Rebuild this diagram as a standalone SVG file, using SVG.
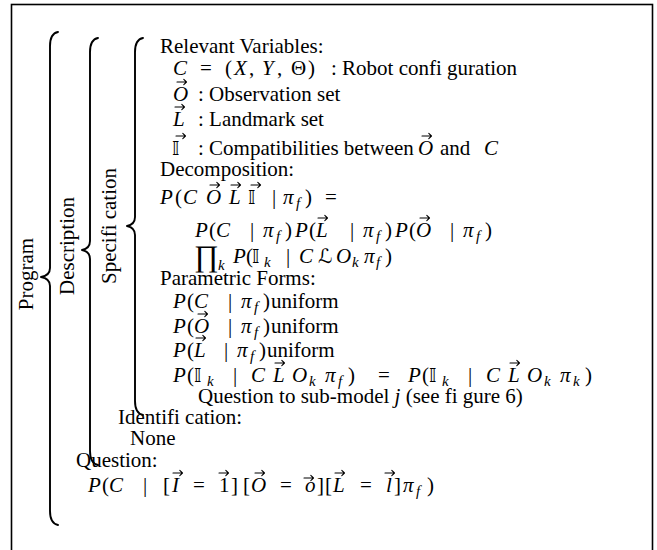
<svg xmlns="http://www.w3.org/2000/svg" width="657" height="550" viewBox="0 0 657 550">
<style>
.t{font-family:"Liberation Serif","DejaVu Serif",serif;font-size:21px;fill:#000}
.i{font-style:italic}
.s{font-size:15px;font-style:italic}
.bb{font-family:"DejaVu Sans","DejaVu Serif","Noto Sans",sans-serif;font-size:19px;font-style:italic}
.sc{font-family:"DejaVu Serif","DejaVu Sans",serif;font-size:20px;font-style:italic}
.br{fill:none;stroke:#000;stroke-width:1.9;stroke-linecap:round;stroke-linejoin:round}
.frame{fill:none;stroke:#000;stroke-width:1.6}
.vec{fill:none;stroke:#000;stroke-width:1.1;stroke-linecap:round;stroke-linejoin:round}
</style>
<defs>
<path id="arr" class="vec" d="M0,0 H9.5 M6.8,-2.6 L9.5,0 L6.8,2.6"/>
</defs>
<rect class="frame" x="11.5" y="4.5" width="641" height="560"/>

<g id="braces">
<path id="brace-program" class="br" d="M58,32 C53,33 50,37 50,46 V268 C50,273 47,276 41,277 C47,278 50,281 50,286 V511 C50,520 53,524 58,525"/>
<path id="brace-description" class="br" d="M98,38 C93,39 90,43 90,52 V241 C90,246 87,249 82,250 C87,251 90,254 90,259 V451 C90,460 93,464 98,465"/>
<path id="brace-specification" class="br" d="M143,38 C138,39 135,43 135,52 V217 C135,222 132,225 127,226 C132,227 135,230 135,235 V401 C135,410 138,414 143,415"/>
</g>

<g id="labels">
<text class="t" transform="translate(33,274) rotate(-90)" text-anchor="middle">Program</text>
<text class="t" transform="translate(74,246) rotate(-90)" text-anchor="middle">Description</text>
<text class="t" transform="translate(116,226) rotate(-90)" text-anchor="middle">Specifi cation</text>
</g>

<g id="specification">
<text class="t" x="160" y="53">Relevant Variables:</text>
<text class="t" y="75"><tspan x="173" class="i">C</tspan><tspan x="200">=</tspan><tspan x="225">(</tspan><tspan x="234" class="i">X</tspan><tspan x="249">,</tspan><tspan x="262" class="i">Y</tspan><tspan x="277">,</tspan><tspan x="291">Θ</tspan><tspan x="308">)</tspan><tspan x="331">: Robot confi guration</tspan></text>
<text class="t" y="101"><tspan x="173" class="i">O</tspan><tspan x="198">: Observation set</tspan></text>
<use href="#arr" x="177" y="82"/>
<text class="t" y="126"><tspan x="173" class="i">L</tspan><tspan x="198">: Landmark set</tspan></text>
<use href="#arr" x="175" y="107"/>
<text class="t" y="155"><tspan x="172" class="bb">𝕀</tspan><tspan x="198">: Compatibilities between</tspan><tspan x="418" class="i">O</tspan><tspan x="440">and</tspan><tspan x="484" class="i">C</tspan></text>
<use href="#arr" x="176" y="136"/>
<use href="#arr" x="422" y="136"/>

<text class="t" x="160" y="176">Decomposition:</text>
<text class="t" y="204"><tspan x="160" class="i">P</tspan><tspan x="175">(</tspan><tspan x="183" class="i">C</tspan><tspan x="206" class="i">O</tspan><tspan x="229" class="i">L</tspan><tspan x="248" class="bb">𝕀</tspan><tspan x="272">|</tspan><tspan x="283" class="i">π</tspan><tspan x="296" dy="4" class="s">f</tspan><tspan x="305" dy="-4">)</tspan><tspan x="325">=</tspan></text>
<use href="#arr" x="210" y="185"/>
<use href="#arr" x="231" y="185"/>
<use href="#arr" x="251" y="185"/>

<text class="t" y="237"><tspan x="195" class="i">P</tspan><tspan x="209">(</tspan><tspan x="216" class="i">C</tspan><tspan x="250">|</tspan><tspan x="263" class="i">π</tspan><tspan x="276" dy="4" class="s">f</tspan><tspan x="285" dy="-4">)</tspan><tspan x="295" class="i">P</tspan><tspan x="309">(</tspan><tspan x="316" class="i">L</tspan><tspan x="350">|</tspan><tspan x="363" class="i">π</tspan><tspan x="376" dy="4" class="s">f</tspan><tspan x="385" dy="-4">)</tspan><tspan x="395" class="i">P</tspan><tspan x="409">(</tspan><tspan x="416" class="i">O</tspan><tspan x="450">|</tspan><tspan x="463" class="i">π</tspan><tspan x="476" dy="4" class="s">f</tspan><tspan x="485" dy="-4">)</tspan></text>
<use href="#arr" x="318" y="218"/>
<use href="#arr" x="420" y="218"/>

<text class="t" y="263"><tspan x="194" y="266" font-size="30">∏</tspan><tspan x="218" y="270" class="s">k</tspan><tspan x="233" y="263" class="i">P</tspan><tspan x="246">(</tspan><tspan x="252" class="bb">𝕀</tspan><tspan x="264" dy="4" class="s">k</tspan><tspan x="286" dy="-4">|</tspan><tspan x="299" class="i">C</tspan><tspan x="318" class="sc">ℒ</tspan><tspan x="336" class="i">O</tspan><tspan x="352" dy="4" class="s">k</tspan><tspan x="364" dy="-4" class="i">π</tspan><tspan x="376" dy="4" class="s">f</tspan><tspan x="385" dy="-4">)</tspan></text>

<text class="t" x="160" y="285">Parametric Forms:</text>
<text class="t" y="308"><tspan x="173" class="i">P</tspan><tspan x="187">(</tspan><tspan x="194" class="i">C</tspan><tspan x="228">|</tspan><tspan x="241" class="i">π</tspan><tspan x="254" dy="4" class="s">f</tspan><tspan x="263" dy="-4">)</tspan><tspan x="271">uniform</tspan></text>
<text class="t" y="333"><tspan x="173" class="i">P</tspan><tspan x="187">(</tspan><tspan x="194" class="i">O</tspan><tspan x="228">|</tspan><tspan x="241" class="i">π</tspan><tspan x="254" dy="4" class="s">f</tspan><tspan x="263" dy="-4">)</tspan><tspan x="271">uniform</tspan></text>
<use href="#arr" x="198" y="314"/>
<text class="t" y="357"><tspan x="173" class="i">P</tspan><tspan x="187">(</tspan><tspan x="194" class="i">L</tspan><tspan x="224">|</tspan><tspan x="237" class="i">π</tspan><tspan x="250" dy="4" class="s">f</tspan><tspan x="259" dy="-4">)</tspan><tspan x="267">uniform</tspan></text>
<use href="#arr" x="196" y="338"/>
<text class="t" y="382"><tspan x="173" class="i">P</tspan><tspan x="187">(</tspan><tspan x="194" class="bb">𝕀</tspan><tspan x="207" dy="4" class="s">k</tspan><tspan x="233" dy="-4">|</tspan><tspan x="251" class="i">C</tspan><tspan x="273" class="i">L</tspan><tspan x="292" class="i">O</tspan><tspan x="309" dy="4" class="s">k</tspan><tspan x="325" dy="-4" class="i">π</tspan><tspan x="338" dy="4" class="s">f</tspan><tspan x="348" dy="-4">)</tspan><tspan x="378">=</tspan><tspan x="408" class="i">P</tspan><tspan x="422">(</tspan><tspan x="429" class="bb">𝕀</tspan><tspan x="442" dy="4" class="s">k</tspan><tspan x="468" dy="-4">|</tspan><tspan x="486" class="i">C</tspan><tspan x="508" class="i">L</tspan><tspan x="527" class="i">O</tspan><tspan x="544" dy="4" class="s">k</tspan><tspan x="560" dy="-4" class="i">π</tspan><tspan x="573" dy="4" class="s">k</tspan><tspan x="585" dy="-4">)</tspan></text>
<use href="#arr" x="275" y="363"/>
<use href="#arr" x="510" y="363"/>
<text class="t" y="403"><tspan x="198">Question to sub-model </tspan><tspan class="i">j</tspan><tspan> (see fi gure 6)</tspan></text>
</g>

<g id="description">
<text class="t" x="118" y="424">Identifi cation:</text>
<text class="t" x="130" y="445">None</text>
</g>

<g id="question">
<text class="t" x="76" y="467">Question:</text>
<text class="t" y="492"><tspan x="88" class="i">P</tspan><tspan x="102">(</tspan><tspan x="109" class="i">C</tspan><tspan x="143">|</tspan><tspan x="163">[</tspan><tspan x="172" class="i">I</tspan><tspan x="193">=</tspan><tspan x="219">1</tspan><tspan x="231">]</tspan><tspan x="243">[</tspan><tspan x="251" class="i">O</tspan><tspan x="280">=</tspan><tspan x="305" class="i">o</tspan><tspan x="317">]</tspan><tspan x="325">[</tspan><tspan x="333" class="i">L</tspan><tspan x="360">=</tspan><tspan x="386" class="i">l</tspan><tspan x="394">]</tspan><tspan x="403" class="i">π</tspan><tspan x="416" dy="4" class="s">f</tspan><tspan x="427" dy="-4">)</tspan></text>
<use href="#arr" x="173" y="473"/>
<use href="#arr" x="219" y="473"/>
<use href="#arr" x="255" y="473"/>
<use href="#arr" x="304" y="478"/>
<use href="#arr" x="335" y="473"/>
<use href="#arr" x="385" y="473"/>
</g>
</svg>
